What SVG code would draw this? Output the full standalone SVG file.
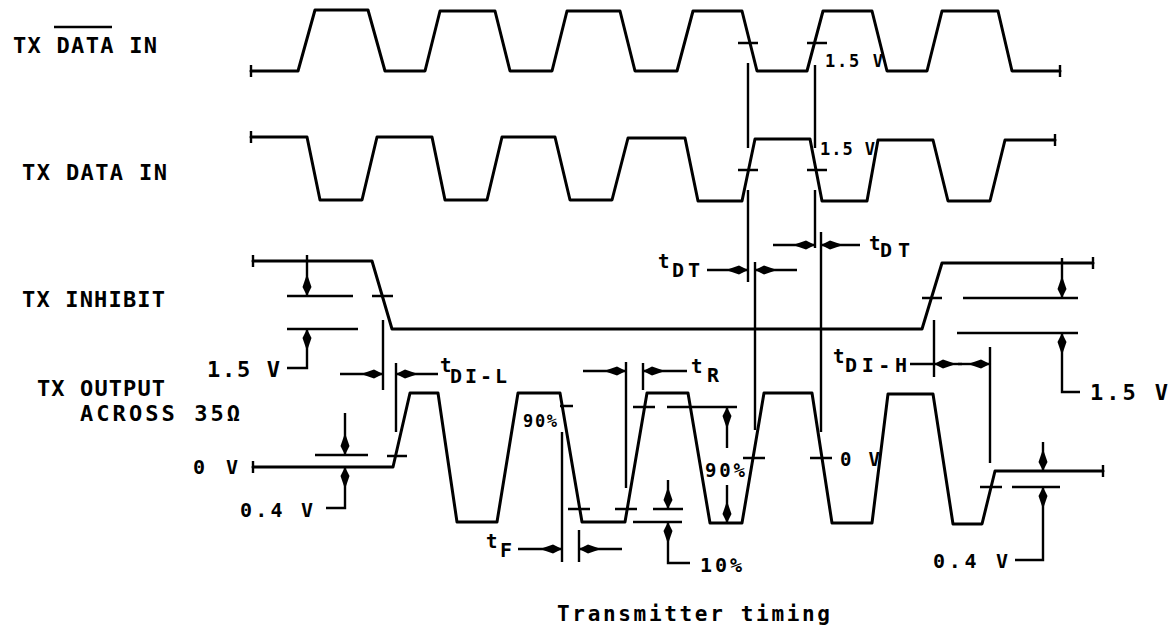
<svg xmlns="http://www.w3.org/2000/svg" width="1173" height="633" viewBox="0 0 1173 633">
<style>
.w{fill:none;stroke:#000;stroke-width:3;stroke-linejoin:round;stroke-linecap:round}
.d{fill:none;stroke:#000;stroke-width:2.4;stroke-linecap:butt}
.a{fill:none;stroke:#000;stroke-width:2.4;marker-end:url(#ah)}
.t{font-family:"DejaVu Sans Mono","Liberation Mono",monospace;font-weight:bold;fill:#000}
.L{font-size:22px}
.M{font-size:20px}
.S{font-size:17px}
.T{font-size:19px}
</style>
<defs>
<marker id="ah" markerUnits="userSpaceOnUse" viewBox="-23 -6 24 12" markerWidth="24" markerHeight="12" refX="0" refY="0" orient="auto">
<path d="M0,0 L-9,-4.5 L-22,0 L-9,4.5 Z" fill="#000"/>
</marker>
</defs>
<rect width="1173" height="633" fill="#fff"/>

<g id="labels">
<text class="t L" x="13" y="53" textLength="144" lengthAdjust="spacing">TX DATA IN</text>
<line x1="54" y1="27" x2="112" y2="27" stroke="#000" stroke-width="2.5"/>
<text class="t L" x="22" y="180" textLength="145" lengthAdjust="spacing">TX DATA IN</text>
<text class="t L" x="22" y="307" textLength="143" lengthAdjust="spacing">TX INHIBIT</text>
<text class="t L" x="37" y="396" textLength="128" lengthAdjust="spacing">TX OUTPUT</text>
<text class="t L" x="80" y="421" textLength="160" lengthAdjust="spacing">ACROSS 35Ω</text>
<text class="t" x="557" y="621" font-size="21" textLength="273" lengthAdjust="spacing">Transmitter timing</text>
</g>

<g id="tx-data-in-bar">
<polyline class="w" points="251,71 298,71 315,10 368,10 385,71 425,71 440,11 495,11 510,71 552,71 567,11 620,11 635,71 677,71 693,11 742,11 757,71 807,71 823,11 872,11 887,71 927,71 942,11 998,11 1012,71 1060,71"/>
<path class="d" d="M251,65 V77 M1060,65 V77"/>
</g>

<g id="tx-data-in">
<polyline class="w" points="251,137 307,137 320,200 362,200 377,137 432,137 445,200 487,200 502,137 555,137 570,200 612,200 628,138 685,138 698,201 742,201 755,139 810,139 822,201 867,201 878,140 933,140 948,201 990,201 1005,140 1055,140"/>
<path class="d" d="M251,131 V143 M1055,134 V146"/>
</g>

<g id="tx-inhibit">
<polyline class="w" points="253,261 372,261 392,329 922,329 942,263 1093,263"/>
<path class="d" d="M253,255 V267 M1093,257 V269"/>
</g>

<g id="tx-output">
<polyline class="w" points="253,467 393,467 410,393 438,393 457,522 497,522 518,393 560,393 582,522 625,522 647,393 688,393 710,523 742,523 764,393 812,393 832,523 872,523 888,394 933,394 953,524 982,524 995,471 1103,471"/>
<path class="d" d="M253,461 V473 M1103,465 V477"/>
</g>

<g id="connectors">
<path class="d" d="M738,43 H758 M807,43 H827 M738,170 H758 M807,170 H827"/>
<path class="d" d="M748,63 V148 M748,190 V282 M815,65 V148 M815,190 V248 M755,262 V430 M821,232 V432"/>
<path class="a" d="M773,245 H815"/>
<path class="a" d="M860,245 H821"/>
<path class="a" d="M707,270 H748"/>
<path class="a" d="M797,270 H755"/>
<path class="d" d="M372,296 H393 M287,296 H353 M287,329 H358"/>
<path class="a" d="M307,255 V296"/>
<path class="a" d="M287,368 H307 V329"/>
<path class="d" d="M922,298 H942 M963,298 H1078 M957,333 H1078"/>
<path class="a" d="M1062,258 V298"/>
<path class="a" d="M1080,392 H1062 V333"/>
<path class="d" d="M383,320 V390 M396,363 V432"/>
<path class="a" d="M340,374 H383"/>
<path class="a" d="M438,374 H396"/>
<path class="d" d="M387,456 H407 M315,455 H368"/>
<path class="a" d="M345,413 V455"/>
<path class="a" d="M326,508 H345 V467"/>
<path class="d" d="M560,406 H573 M568,509 H590 M615,509 H637 M633,407 H655"/>
<path class="d" d="M562,432 V562 M579,530 V562"/>
<path class="a" d="M518,549 H562"/>
<path class="a" d="M622,549 H579"/>
<path class="d" d="M626,362 V488 M643,363 V390"/>
<path class="a" d="M583,371 H626"/>
<path class="a" d="M687,371 H643"/>
<path class="d" d="M653,509 H683 M633,522 H682"/>
<path class="a" d="M668,480 V509"/>
<path class="a" d="M690,563 H668 V522"/>
<path class="d" d="M667,407 H737"/>
<path class="a" d="M727,448 V407"/>
<path class="a" d="M727,485 V523"/>
<path class="d" d="M743,458 H765 M810,458 H832"/>
<path class="d" d="M934,320 V377 M990,347 V463 M910,364 H934"/>
<path class="a" d="M962,364 H934"/>
<path class="a" d="M958,364 H990"/>
<path class="d" d="M980,487 H1002 M1012,487 H1060"/>
<path class="a" d="M1043,442 V471"/>
<path class="a" d="M1015,560 H1043 V487"/>
</g>

<g id="annotations">
<text class="t S" x="825" y="67" textLength="58" lengthAdjust="spacing">1.5 V</text>
<text class="t S" x="820" y="155" textLength="55" lengthAdjust="spacing">1.5 V</text>
<text class="t L" x="207" y="377" textLength="73" lengthAdjust="spacing">1.5 V</text>
<text class="t L" x="1090" y="400" textLength="78" lengthAdjust="spacing">1.5 V</text>
<text class="t M" x="193" y="474" textLength="45" lengthAdjust="spacing">0 V</text>
<text class="t M" x="240" y="517" textLength="73" lengthAdjust="spacing">0.4 V</text>
<text class="t M" x="933" y="568" textLength="75" lengthAdjust="spacing">0.4 V</text>
<text class="t M" x="700" y="572" textLength="42" lengthAdjust="spacing">10%</text>
<text class="t T" x="840" y="466" textLength="40" lengthAdjust="spacing">0 V</text>
<text class="t S" x="523" y="427" textLength="34" lengthAdjust="spacing">90%</text>
<text class="t T" x="705" y="477" textLength="40" lengthAdjust="spacing">90%</text>
<text class="t T" x="869" y="250">t</text><text class="t M" x="880" y="257" textLength="30" lengthAdjust="spacing">DT</text>
<text class="t T" x="658" y="268">t</text><text class="t M" x="672" y="277" textLength="28" lengthAdjust="spacing">DT</text>
<text class="t T" x="440" y="372">t</text><text class="t M" x="450" y="383" textLength="57" lengthAdjust="spacing">DI-L</text>
<text class="t T" x="691" y="373">t</text><text class="t M" x="707" y="382">R</text>
<text class="t T" x="833" y="363">t</text><text class="t M" x="845" y="372" textLength="62" lengthAdjust="spacing">DI-H</text>
<text class="t T" x="486" y="548">t</text><text class="t M" x="500" y="557">F</text>
</g>
</svg>
